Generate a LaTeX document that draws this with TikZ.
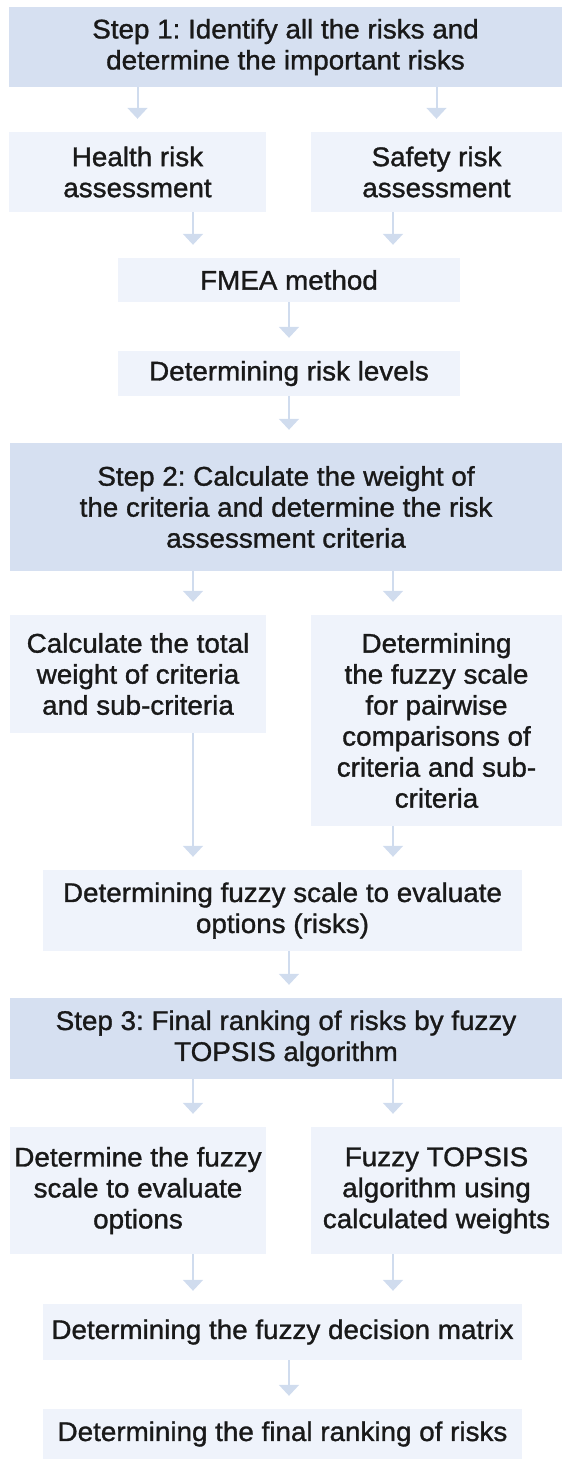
\documentclass[tikz,border=0pt]{standalone}
\usepackage{fontspec}
\setmainfont{Liberation Sans}[FakeStretch=1.03,
  BoldFont=Liberation Sans, BoldFeatures={FakeBold=1.2}]
\usetikzlibrary{arrows.meta}

\definecolor{stepfill}{RGB}{214,224,241}
\definecolor{subfill}{RGB}{239,243,251}
\definecolor{arrowc}{RGB}{208,220,238}

\begin{document}
\frenchspacing
\begin{tikzpicture}[
      x = 1pt, y = -1pt,
      every node/.style = {
        align = center, inner sep = 0pt, text = black!90,
        font = \fontsize{27}{31}\selectfont\bfseries},
      stepbox/.style = {fill = stepfill, minimum height = #1},
      subbox/.style = {fill = subfill, minimum height = #1},
      arr/.style = {arrowc, line width = 2pt,
        -{Triangle[width = 20pt, length = 11pt]}, shorten > = 13pt}
      ]
    \useasboundingbox (0,0) rectangle (562,1459);
    \coordinate (L) at (193,0);
    \coordinate (R) at (393,0);
    \coordinate (M) at (289,0);

    \node[stepbox=80, minimum width=553] (S1) at (285.5,47)
      {Step 1: Identify all the risks and\\determine the important risks};
    \node[subbox=80, minimum width=257] (HR) at (137.5,172) {Health risk\\assessment};
    \node[subbox=80, minimum width=251] (SR) at (436.5,172) {Safety risk\\assessment};
    \node[subbox=44, minimum width=342] (FM) at (289,280) {FMEA method};
    \node[subbox=45, minimum width=342] (RL) at (289,373.5) {Determining risk levels};

    \node[stepbox=128, minimum width=552] (S2) at (286,507)
      {Step 2: Calculate the weight of\\the criteria and determine the risk\\assessment criteria};
    \node[subbox=118, minimum width=256] (TW) at (138,674)
      {Calculate the total\\weight of criteria\\and sub-criteria};
    \node[subbox=211, minimum width=251] (FS) at (436.5,720.5)
      {Determining\\the fuzzy scale\\for pairwise\\comparisons of\\criteria and sub-\\criteria};
    \node[subbox=81, minimum width=479] (FO) at (282.5,910.5)
      {Determining fuzzy scale to evaluate\\options (risks)};

    \node[stepbox=81, minimum width=552] (S3) at (286,1038.5)
      {Step 3: Final ranking of risks by fuzzy\\TOPSIS algorithm};
    \node[subbox=127, minimum width=256] (DS) at (138,1190.5)
      {Determine the fuzzy\\scale to evaluate\\options};
    \node[subbox=127, minimum width=251] (FT) at (436.5,1190.5)
      {Fuzzy TOPSIS\\algorithm using\\calculated weights};
    \node[subbox=56, minimum width=479] (DM) at (282.5,1332)
      {Determining the fuzzy decision matrix};
    \node[subbox=50, minimum width=479] (FR) at (282.5,1434)
      {Determining the final ranking of risks};

    \draw[arr] (S1.south -| HR) -- (HR.north);
    \draw[arr] (S1.south -| SR) -- (SR.north);
    \draw[arr] (HR.south -| L) -- (FM.north -| L);
    \draw[arr] (SR.south -| R) -- (FM.north -| R);
    \draw[arr] (FM.south -| M) -- (RL.north -| M);
    \draw[arr] (RL.south -| M) -- (S2.north -| M);

    \draw[arr] (S2.south -| L) -- (TW.north -| L);
    \draw[arr] (S2.south -| R) -- (FS.north -| R);
    \draw[arr] (TW.south -| L) -- (FO.north -| L);
    \draw[arr] (FS.south -| R) -- (FO.north -| R);
    \draw[arr] (FO.south -| M) -- (S3.north -| M);

    \draw[arr] (S3.south -| L) -- (DS.north -| L);
    \draw[arr] (S3.south -| R) -- (FT.north -| R);
    \draw[arr] (DS.south -| L) -- (DM.north -| L);
    \draw[arr] (FT.south -| R) -- (DM.north -| R);
    \draw[arr] (DM.south -| M) -- (FR.north -| M);
  \end{tikzpicture}
\end{document}
